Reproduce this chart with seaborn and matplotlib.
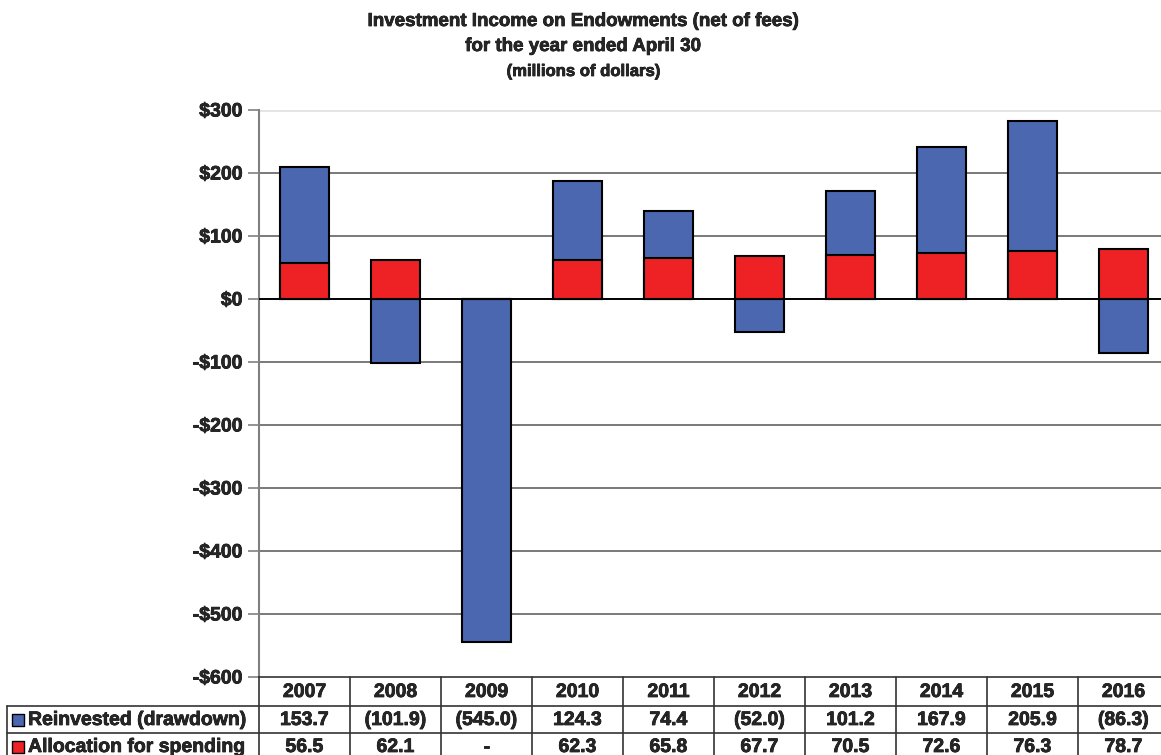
import numpy as np
import pandas as pd
import matplotlib
matplotlib.use("Agg")
import matplotlib.pyplot as plt
import matplotlib.patheffects as pe
import seaborn as sns

years = ["2007", "2008", "2009", "2010", "2011", "2012", "2013", "2014", "2015", "2016"]
reinvested = [153.7, -101.9, -545.0, 124.3, 74.4, -52.0, 101.2, 167.9, 205.9, -86.3]
allocation = [56.5, 62.1, 0.0, 62.3, 65.8, 67.7, 70.5, 72.6, 76.3, 78.7]
reinvested_labels = ["153.7", "(101.9)", "(545.0)", "124.3", "74.4", "(52.0)", "101.2", "167.9", "205.9", "(86.3)"]
allocation_labels = ["56.5", "62.1", "-", "62.3", "65.8", "67.7", "70.5", "72.6", "76.3", "78.7"]
series_names = ["Reinvested (drawdown)", "Allocation for spending"]
yticks = [300, 200, 100, 0, -100, -200, -300, -400, -500, -600]

BLUE = "#4A67B0"
RED = "#EE2125"

df = pd.DataFrame({"year": years, "reinv": reinvested, "alloc": allocation})
# blue drawn from 0 to its top (stacked on red when positive), red drawn over it
df["blue_top"] = np.where(df["reinv"] > 0, df["reinv"] + df["alloc"], df["reinv"])

sns.set_style("white")
plt.rcParams["font.family"] = ["Liberation Sans", "DejaVu Sans"]
plt.rcParams["font.weight"] = "bold"
thick = [pe.withStroke(linewidth=0.5, foreground="black")]

fig = plt.figure(figsize=(11.61, 7.55), dpi=100)
W, H = 1161, 755
ax = fig.add_axes([259 / W, 78 / H, 910 / W, 567 / H])

sns.barplot(data=df, x="year", y="blue_top", color=BLUE, edgecolor="black",
            linewidth=1.5, width=0.53, saturation=1, ax=ax, zorder=3)
sns.barplot(data=df, x="year", y="alloc", color=RED, edgecolor="black",
            linewidth=1.5, width=0.53, saturation=1, ax=ax, zorder=4)

ax.set_xlim(-0.5, len(years) - 0.5)
ax.set_ylim(min(yticks), max(yticks))
ax.set_yticks(yticks)
ax.set_yticklabels([("-$%d" % -v) if v < 0 else ("$%d" % v) for v in yticks],
                   fontsize=14, fontweight="bold")
for t in ax.get_yticklabels():
    t.set_path_effects(thick)
ax.set_xticks([])
ax.set_xlabel("")
ax.set_ylabel("")
for v in yticks:
    if v == max(yticks):
        ax.axhline(v, color="#e4e4e4", lw=2, zorder=1)
    elif v == 0:
        ax.axhline(v, color="black", lw=1.4, zorder=5)
    elif v == min(yticks):
        pass
    else:
        ax.axhline(v, color="#555555", lw=1.1, zorder=1)
for s in ["top", "right"]:
    ax.spines[s].set_visible(False)
ax.spines["left"].set_color("#808080")
ax.spines["left"].set_linewidth(1.5)
ax.spines["bottom"].set_color("#333333")
ax.spines["bottom"].set_linewidth(1.2)
ax.tick_params(axis="y", direction="out", length=8, width=1.2, color="#808080", pad=4, left=True)

# title
fig.text(0.502, 1 - 26 / H, "Investment Income on Endowments (net of fees)", ha="center", va="baseline",
         fontsize=13.5, fontweight="bold", path_effects=thick)
fig.text(0.502, 1 - 51 / H, "for the year ended April 30", ha="center", va="baseline",
         fontsize=13.5, fontweight="bold", path_effects=thick)
fig.text(0.502, 1 - 76 / H, "(millions of dollars)", ha="center", va="baseline",
         fontsize=12, fontweight="bold", path_effects=thick)

# data table
lab_w = 252 / 91.0
tx = fig.add_axes([7 / W, -5 / H, 1162 / W, 83 / H])
tx.set_xlim(-0.5 - lab_w, len(years) - 0.5)
tx.set_ylim(83, 0)
tx.axis("off")
rows = [0, 29, 56, 83]
lc = "#333333"
for i in range(len(years) + 1):
    tx.plot([i - 0.5, i - 0.5], [rows[0], rows[3]], color=lc, lw=1.2, clip_on=False)
tx.plot([-0.5 - lab_w, -0.5 - lab_w], [rows[1], rows[3]], color=lc, lw=1.2, clip_on=False)
for r in rows[1:3]:
    tx.plot([-0.5 - lab_w, len(years) - 0.5], [r, r], color=lc, lw=1.2, clip_on=False)
tfs = 14
for i, y in enumerate(years):
    tx.text(i, (rows[0] + rows[1]) / 2 + 1, y, ha="center", va="center", fontsize=tfs,
            fontweight="bold", path_effects=thick)
    tx.text(i, (rows[1] + rows[2]) / 2 + 1, reinvested_labels[i], ha="center", va="center", fontsize=tfs,
            fontweight="bold", path_effects=thick)
    tx.text(i, (rows[2] + rows[3]) / 2 + 1, allocation_labels[i], ha="center", va="center", fontsize=tfs,
            fontweight="bold", path_effects=thick)
mx = -0.5 - lab_w + 11 / 91
tx.scatter([mx, mx], [(rows[1] + rows[2]) / 2 + 0.5, (rows[2] + rows[3]) / 2 + 0.5], marker="s", s=75,
           c=[BLUE, RED], edgecolors="black", linewidths=1.0, clip_on=False, zorder=5)
for k, (name, rr) in enumerate(zip(series_names, [(rows[1], rows[2]), (rows[2], rows[3])])):
    tx.text(-0.5 - lab_w + 21 / 91, (rr[0] + rr[1]) / 2 + 1, name, ha="left", va="center",
            fontsize=tfs, fontweight="bold", path_effects=thick)

fig.savefig("out.png", dpi=100)
